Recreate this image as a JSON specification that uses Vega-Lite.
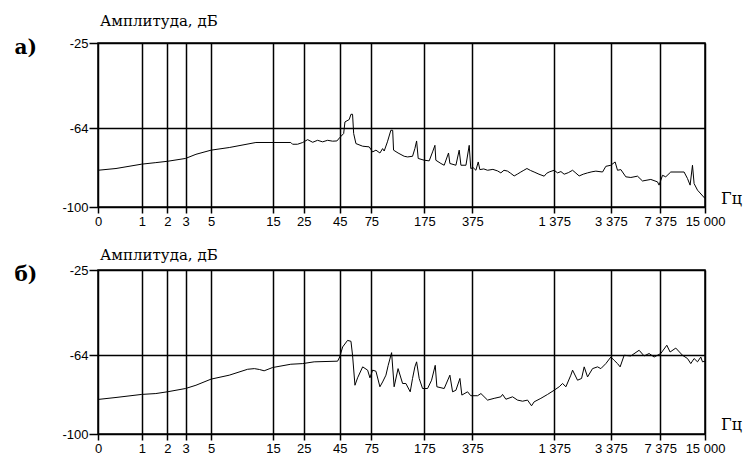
{
  "$schema": "https://vega.github.io/schema/vega-lite/v6.json",
  "padding": {"left": 13, "top": 13, "right": 2, "bottom": 2},
  "background": "white",
  "data": {"values": [
    {"p":"a","f":0,"db":-83.2},{"p":"a","f":0.33,"db":-82.4},{"p":"a","f":1,"db":-80.4},{"p":"a","f":1.5,"db":-79.7},{"p":"a","f":2,"db":-79.1},{"p":"a","f":3,"db":-77.8},{"p":"a","f":3.72,"db":-75.9},{"p":"a","f":5,"db":-74.0},{"p":"a","f":7,"db":-72.8},{"p":"a","f":11.2,"db":-70.5},{"p":"a","f":20.2,"db":-70.5},{"p":"a","f":20.8,"db":-71.3},{"p":"a","f":22.6,"db":-71.3},{"p":"a","f":24.6,"db":-70.5},{"p":"a","f":26.7,"db":-69.2},{"p":"a","f":29,"db":-70.4},{"p":"a","f":31.4,"db":-69.5},{"p":"a","f":34.1,"db":-70.2},{"p":"a","f":37,"db":-69.5},{"p":"a","f":40.1,"db":-69.9},{"p":"a","f":43,"db":-69.8},{"p":"a","f":45,"db":-68.3},{"p":"a","f":48,"db":-66.4},{"p":"a","f":49,"db":-61.1},{"p":"a","f":52.5,"db":-60.0},{"p":"a","f":54,"db":-57.6},{"p":"a","f":55.4,"db":-57.6},{"p":"a","f":56.4,"db":-66.4},{"p":"a","f":58.5,"db":-71.0},{"p":"a","f":65.2,"db":-72.2},{"p":"a","f":72.4,"db":-72.5},{"p":"a","f":76.5,"db":-74.8},{"p":"a","f":80.7,"db":-74.0},{"p":"a","f":86,"db":-75.3},{"p":"a","f":89.8,"db":-73.3},{"p":"a","f":92.1,"db":-74.4},{"p":"a","f":97,"db":-70.2},{"p":"a","f":102.5,"db":-64.9},{"p":"a","f":105.5,"db":-64.9},{"p":"a","f":107,"db":-74.0},{"p":"a","f":115,"db":-75.3},{"p":"a","f":126.8,"db":-76.8},{"p":"a","f":133.9,"db":-77.1},{"p":"a","f":144.9,"db":-76.8},{"p":"a","f":150.4,"db":-73.3},{"p":"a","f":154.6,"db":-69.8},{"p":"a","f":158.6,"db":-77.8},{"p":"a","f":174.4,"db":-78.6},{"p":"a","f":188.9,"db":-78.9},{"p":"a","f":199.4,"db":-74.8},{"p":"a","f":207,"db":-71.8},{"p":"a","f":210,"db":-78.6},{"p":"a","f":227.6,"db":-80.1},{"p":"a","f":239.8,"db":-80.9},{"p":"a","f":257,"db":-75.3},{"p":"a","f":262.6,"db":-80.1},{"p":"a","f":289,"db":-80.9},{"p":"a","f":304.5,"db":-74.0},{"p":"a","f":313,"db":-80.9},{"p":"a","f":339,"db":-80.9},{"p":"a","f":357,"db":-71.8},{"p":"a","f":366,"db":-82.4},{"p":"a","f":380,"db":-82.0},{"p":"a","f":397,"db":-83.2},{"p":"a","f":412,"db":-79.4},{"p":"a","f":422.7,"db":-82.9},{"p":"a","f":450,"db":-82.6},{"p":"a","f":477.7,"db":-83.2},{"p":"a","f":520,"db":-82.8},{"p":"a","f":560,"db":-83.5},{"p":"a","f":590,"db":-84.4},{"p":"a","f":620,"db":-83.2},{"p":"a","f":656.5,"db":-83.6},{"p":"a","f":690,"db":-84.6},{"p":"a","f":729,"db":-85.8},{"p":"a","f":770,"db":-84.9},{"p":"a","f":810,"db":-84.0},{"p":"a","f":850,"db":-83.2},{"p":"a","f":892,"db":-82.4},{"p":"a","f":945,"db":-83.3},{"p":"a","f":1000,"db":-84.0},{"p":"a","f":1080,"db":-85.0},{"p":"a","f":1173,"db":-85.9},{"p":"a","f":1220,"db":-84.6},{"p":"a","f":1269,"db":-84.0},{"p":"a","f":1373,"db":-83.2},{"p":"a","f":1451,"db":-84.4},{"p":"a","f":1530,"db":-83.8},{"p":"a","f":1610,"db":-85.0},{"p":"a","f":1720,"db":-84.3},{"p":"a","f":1840,"db":-83.2},{"p":"a","f":1940,"db":-84.5},{"p":"a","f":2042,"db":-85.8},{"p":"a","f":2180,"db":-85.0},{"p":"a","f":2333,"db":-84.4},{"p":"a","f":2500,"db":-83.9},{"p":"a","f":2661,"db":-83.6},{"p":"a","f":2958,"db":-84.0},{"p":"a","f":3118,"db":-81.4},{"p":"a","f":3373,"db":-80.9},{"p":"a","f":3612,"db":-79.4},{"p":"a","f":3750,"db":-83.2},{"p":"a","f":3953,"db":-82.9},{"p":"a","f":4278,"db":-86.2},{"p":"a","f":4632,"db":-86.5},{"p":"a","f":5150,"db":-85.9},{"p":"a","f":5572,"db":-88.1},{"p":"a","f":6355,"db":-87.4},{"p":"a","f":7063,"db":-88.5},{"p":"a","f":7248,"db":-90.0},{"p":"a","f":7652,"db":-85.5},{"p":"a","f":8054,"db":-86.2},{"p":"a","f":8720,"db":-84.0},{"p":"a","f":10770,"db":-84.0},{"p":"a","f":11370,"db":-87.0},{"p":"a","f":11850,"db":-90.0},{"p":"a","f":12300,"db":-80.9},{"p":"a","f":12620,"db":-89.3},{"p":"a","f":13320,"db":-92.3},{"p":"a","f":15000,"db":-96.1},
    {"p":"b","f":0,"db":-84.2},{"p":"b","f":0.33,"db":-83.3},{"p":"b","f":1,"db":-81.9},{"p":"b","f":1.5,"db":-81.5},{"p":"b","f":2,"db":-80.7},{"p":"b","f":3,"db":-79.2},{"p":"b","f":3.72,"db":-77.7},{"p":"b","f":5,"db":-74.9},{"p":"b","f":7,"db":-73.1},{"p":"b","f":9.7,"db":-70.4},{"p":"b","f":10.9,"db":-70.1},{"p":"b","f":11.9,"db":-70.5},{"p":"b","f":12.9,"db":-71.1},{"p":"b","f":14.9,"db":-69.6},{"p":"b","f":20.2,"db":-68.1},{"p":"b","f":24.6,"db":-67.8},{"p":"b","f":29.7,"db":-67.0},{"p":"b","f":43.5,"db":-66.7},{"p":"b","f":45,"db":-64.8},{"p":"b","f":47.2,"db":-60.2},{"p":"b","f":51.1,"db":-57.2},{"p":"b","f":54,"db":-57.6},{"p":"b","f":55.4,"db":-64.0},{"p":"b","f":57.6,"db":-77.7},{"p":"b","f":60.1,"db":-74.3},{"p":"b","f":65.2,"db":-69.3},{"p":"b","f":70.6,"db":-70.8},{"p":"b","f":73.3,"db":-74.3},{"p":"b","f":76.5,"db":-70.8},{"p":"b","f":80.7,"db":-71.3},{"p":"b","f":86,"db":-78.4},{"p":"b","f":89.8,"db":-76.2},{"p":"b","f":94.7,"db":-73.1},{"p":"b","f":98.2,"db":-68.6},{"p":"b","f":103.7,"db":-62.8},{"p":"b","f":108,"db":-78.4},{"p":"b","f":115,"db":-70.1},{"p":"b","f":123.6,"db":-76.9},{"p":"b","f":130.3,"db":-76.9},{"p":"b","f":139.6,"db":-80.7},{"p":"b","f":144.9,"db":-74.6},{"p":"b","f":150.4,"db":-69.3},{"p":"b","f":154.6,"db":-67.0},{"p":"b","f":161.1,"db":-74.6},{"p":"b","f":170,"db":-79.2},{"p":"b","f":184.1,"db":-79.2},{"p":"b","f":196.2,"db":-75.4},{"p":"b","f":208,"db":-68.6},{"p":"b","f":213.5,"db":-78.4},{"p":"b","f":239.8,"db":-79.2},{"p":"b","f":262.6,"db":-73.1},{"p":"b","f":274.1,"db":-80.7},{"p":"b","f":289,"db":-80.0},{"p":"b","f":308,"db":-74.6},{"p":"b","f":317.6,"db":-82.2},{"p":"b","f":347.9,"db":-80.7},{"p":"b","f":366,"db":-82.5},{"p":"b","f":407.8,"db":-82.5},{"p":"b","f":430,"db":-81.5},{"p":"b","f":477.7,"db":-84.5},{"p":"b","f":530.6,"db":-83.7},{"p":"b","f":590,"db":-83.0},{"p":"b","f":606,"db":-81.9},{"p":"b","f":639,"db":-84.1},{"p":"b","f":710.5,"db":-83.0},{"p":"b","f":769,"db":-84.5},{"p":"b","f":832.7,"db":-85.0},{"p":"b","f":901,"db":-84.5},{"p":"b","f":960,"db":-87.1},{"p":"b","f":1000,"db":-85.3},{"p":"b","f":1113,"db":-83.7},{"p":"b","f":1238,"db":-81.9},{"p":"b","f":1373,"db":-80.0},{"p":"b","f":1488,"db":-78.4},{"p":"b","f":1570,"db":-76.9},{"p":"b","f":1655,"db":-78.4},{"p":"b","f":1790,"db":-73.1},{"p":"b","f":1840,"db":-70.8},{"p":"b","f":1990,"db":-75.4},{"p":"b","f":2122,"db":-74.6},{"p":"b","f":2212,"db":-69.3},{"p":"b","f":2333,"db":-73.9},{"p":"b","f":2525,"db":-70.1},{"p":"b","f":2733,"db":-69.3},{"p":"b","f":2880,"db":-70.1},{"p":"b","f":3118,"db":-67.8},{"p":"b","f":3375,"db":-64.8},{"p":"b","f":3555,"db":-66.3},{"p":"b","f":3750,"db":-67.8},{"p":"b","f":3910,"db":-69.3},{"p":"b","f":4166,"db":-64.0},{"p":"b","f":4632,"db":-64.3},{"p":"b","f":5282,"db":-61.7},{"p":"b","f":5717,"db":-64.3},{"p":"b","f":6188,"db":-63.2},{"p":"b","f":6700,"db":-64.8},{"p":"b","f":7444,"db":-63.2},{"p":"b","f":8190,"db":-59.4},{"p":"b","f":8630,"db":-62.5},{"p":"b","f":9440,"db":-60.7},{"p":"b","f":10500,"db":-64.0},{"p":"b","f":11370,"db":-65.5},{"p":"b","f":11975,"db":-67.8},{"p":"b","f":12620,"db":-65.5},{"p":"b","f":13320,"db":-67.0},{"p":"b","f":14028,"db":-64.8},{"p":"b","f":14420,"db":-67.0},{"p":"b","f":15000,"db":-66.7}
  ]},
  "bounds": "flush",
  "spacing": 63,
  "vconcat": [
    {
      "width": 607, "height": 164,
      "title": {"text": "Амплитуда, дБ", "offset": 8},
      "transform": [{"filter": "datum.p == 'a'"}],
      "mark": {"type": "line", "color": "black", "strokeWidth": 1},
      "encoding": {
        "x": {"field": "f", "type": "quantitative",
          "scale": {"type": "symlog", "constant": 1, "domain": [0, 15000], "nice": false},
          "axis": {"values": [0,1,2,3,5,15,25,45,75,175,375,1375,3375,7375,15000], "title": "Гц", "titleX": 633, "titleY": -9, "titleAlign": "center", "titleBaseline": "middle"}},
        "y": {"field": "db", "type": "quantitative",
          "scale": {"domain": [-100, -25], "nice": false},
          "axis": {"values": [-100, -64, -25], "title": "а)", "titleX": -84, "titleY": -6, "titleAlign": "left", "titleBaseline": "top", "titleAngle": 0}}
      }
    },
    {
      "width": 607, "height": 164,
      "title": {"text": "Амплитуда, дБ", "offset": 1},
      "transform": [{"filter": "datum.p == 'b'"}],
      "mark": {"type": "line", "color": "black", "strokeWidth": 1},
      "encoding": {
        "x": {"field": "f", "type": "quantitative",
          "scale": {"type": "symlog", "constant": 1, "domain": [0, 15000], "nice": false},
          "axis": {"values": [0,1,2,3,5,15,25,45,75,175,375,1375,3375,7375,15000], "title": "Гц", "titleX": 633, "titleY": -10, "titleAlign": "center", "titleBaseline": "middle"}},
        "y": {"field": "db", "type": "quantitative",
          "scale": {"domain": [-100, -25], "nice": false},
          "axis": {"values": [-100, -64, -25], "title": "б)", "titleX": -84, "titleY": -6, "titleAlign": "left", "titleBaseline": "top", "titleAngle": 0}}
      }
    }
  ],
  "config": {
    "view": {"stroke": "black", "strokeWidth": 1.5},
    "axis": {"grid": true, "gridColor": "black", "gridWidth": 1.5, "gridOpacity": 1, "domain": false, "tickColor": "black", "tickWidth": 1.5, "labelColor": "black", "labelFont": "Liberation Sans Narrow, Arial Narrow, Liberation Sans", "labelFontSize": 13, "titleColor": "black"},
    "axisX": {"tickSize": 6, "labelPadding": 2, "labelOverlap": false, "labelFlush": false, "labelExpr": "replace(format(datum.value, ','), ',', ' ')", "titleFont": "DejaVu Serif", "titleFontSize": 16, "titleFontWeight": "normal"},
    "axisY": {"tickSize": 9, "labelPadding": 1, "labelExpr": "'-' + abs(datum.value)", "titleFont": "DejaVu Serif", "titleFontSize": 20, "titleFontWeight": "bold"},
    "title": {"anchor": "start", "frame": "group", "font": "DejaVu Serif", "fontSize": 15, "fontWeight": "normal", "color": "black", "dx": 2}
  }
}
